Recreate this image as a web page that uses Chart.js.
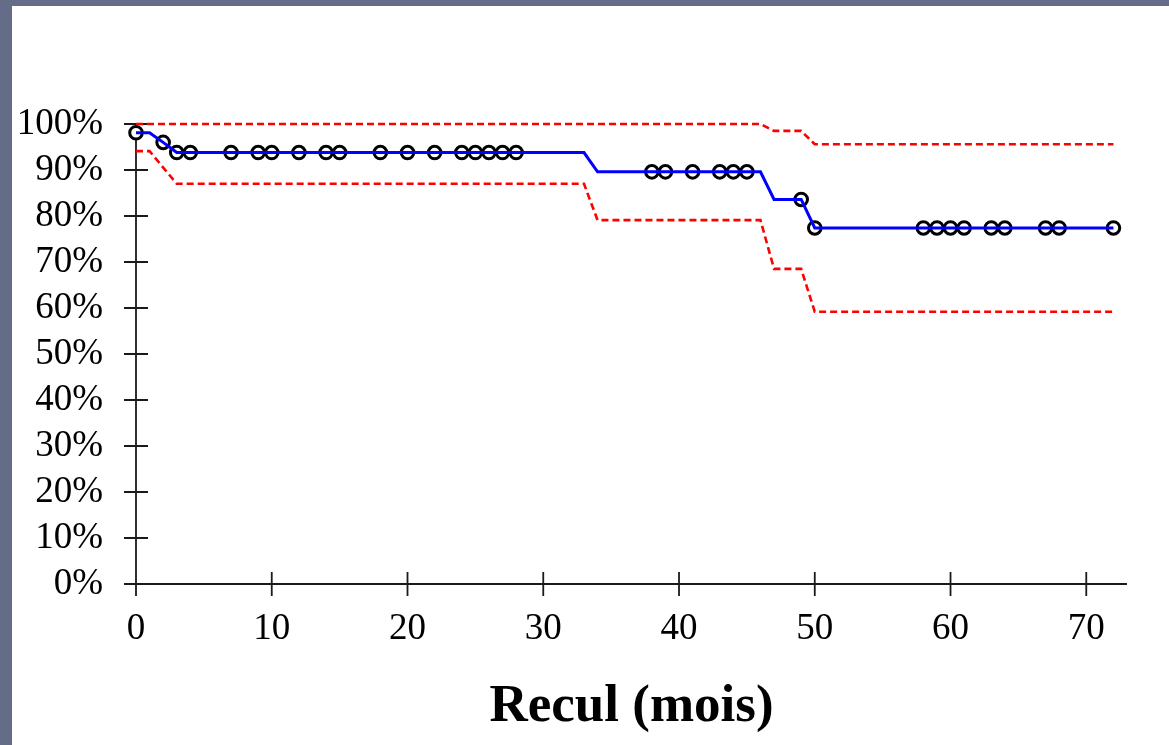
<!DOCTYPE html>
<html>
<head>
<meta charset="utf-8">
<script src="https://cdn.jsdelivr.net/npm/chart.js@4.4.1/dist/chart.umd.min.js"></script>
<style>
  html, body { margin: 0; padding: 0; background: #646c88; }
  #wrap { width: 1169px; height: 745px; }
</style>
</head>
<body>
<div id="wrap"><canvas id="survie" width="1169" height="745"></canvas></div>
<script>
// Kaplan-Meier curve (months, % survival)
const kmX = [0, 1, 2, 3, 33, 34, 46, 47, 49, 50, 72];
const kmY = [98.1, 98.1, 96.0, 93.8, 93.8, 89.6, 89.6, 83.6, 83.6, 77.4, 77.4];

// censored patients (circles)
const censX = [0, 2, 3, 4, 7, 9, 10, 12, 14, 15, 18, 20, 22, 24, 25, 26, 27, 28,
               38, 39, 41, 43, 44, 45, 49, 50, 58, 59, 60, 61, 63, 64, 67, 68, 72];
const censY = [98.1, 96.0, 93.8, 93.8, 93.8, 93.8, 93.8, 93.8, 93.8, 93.8, 93.8, 93.8, 93.8, 93.8, 93.8, 93.8, 93.8, 93.8,
               89.6, 89.6, 89.6, 89.6, 89.6, 89.6, 83.6, 77.4, 77.4, 77.4, 77.4, 77.4, 77.4, 77.4, 77.4, 77.4, 77.4];

// 95% confidence bounds
const upX = [0, 46, 47, 49, 50, 72];
const upY = [100, 100, 98.5, 98.5, 95.6, 95.6];
const loX = [0, 1, 3, 33, 34, 46, 47, 49, 50, 72];
const loY = [94.1, 94.1, 87.0, 87.0, 79.1, 79.1, 68.5, 68.5, 59.2, 59.2];

const xTicks = [0, 10, 20, 30, 40, 50, 60, 70];
const yTicks = [0, 10, 20, 30, 40, 50, 60, 70, 80, 90, 100];

const pts = (xs, ys) => xs.map((x, i) => ({ x: x, y: ys[i] }));

const serif = '"Liberation Serif", "Times New Roman", serif';

// slide background: grey frame + white panel
const slideBg = {
    id: 'slideBg',
    beforeDraw(chart) {
        const c = chart.ctx;
        c.save();
        c.fillStyle = '#646c88';
        c.fillRect(0, 0, chart.width, chart.height);
        c.fillStyle = '#ffffff';
        c.fillRect(12, 6, chart.width - 12, chart.height - 6);
        c.restore();
    }
};

// axes with ticks crossing the line, like the original software output
const crossAxes = {
    id: 'crossAxes',
    beforeDatasetsDraw(chart) {
        const c = chart.ctx;
        const xs = chart.scales.x, ys = chart.scales.y;
        const x0 = xs.getPixelForValue(0);
        const y0 = ys.getPixelForValue(0);
        const half = 12;
        c.save();
        c.strokeStyle = '#1a1a1a';
        c.lineWidth = 1.8;
        c.beginPath();
        c.moveTo(x0, ys.getPixelForValue(100));
        c.lineTo(x0, y0 + half);
        c.moveTo(x0 - half, y0);
        c.lineTo(xs.right, y0);
        xTicks.forEach(v => {
            const px = xs.getPixelForValue(v);
            c.moveTo(px, y0 - half);
            c.lineTo(px, y0 + half);
        });
        yTicks.forEach(v => {
            const py = ys.getPixelForValue(v);
            c.moveTo(x0 - half, py);
            c.lineTo(x0 + half, py);
        });
        c.stroke();
        c.restore();
    }
};

const ctx = document.getElementById('survie').getContext('2d');
const survieChart = new Chart(ctx, {
    type: 'scatter',
    data: {
        datasets: [
            {
                label: 'IC sup',
                data: pts(upX, upY),
                showLine: true,
                clip: false,
                borderColor: '#ff0000',
                borderWidth: 2.6,
                borderDash: [7, 4],
                pointRadius: 0,
                tension: 0
            },
            {
                label: 'IC inf',
                data: pts(loX, loY),
                showLine: true,
                clip: false,
                borderColor: '#ff0000',
                borderWidth: 2.6,
                borderDash: [7, 4],
                pointRadius: 0,
                tension: 0
            },
            {
                label: 'Survie',
                data: pts(kmX, kmY),
                showLine: true,
                clip: false,
                borderColor: '#0000ff',
                borderWidth: 3,
                pointRadius: 0,
                tension: 0
            },
            {
                label: 'Censures',
                data: pts(censX, censY),
                showLine: false,
                clip: false,
                pointRadius: 6.3,
                pointBorderWidth: 3,
                pointBackgroundColor: '#ffffff',
                pointBorderColor: '#000000'
            }
        ]
    },
    options: {
        responsive: false,
        animation: false,
        layout: { padding: { left: 0, right: 42, top: 124, bottom: 0 } },
        plugins: {
            legend: { display: false },
            tooltip: { enabled: false }
        },
        scales: {
            x: {
                type: 'linear',
                min: 0,
                max: 73,
                afterFit: (s) => { s.height = 161; },
                grid: { display: false, drawTicks: false },
                border: { display: false },
                ticks: {
                    stepSize: 10,
                    includeBounds: false,
                    autoSkip: false,
                    maxRotation: 0,
                    padding: 23,
                    color: '#000000',
                    font: { family: serif, size: 37 }
                },
                title: {
                    display: true,
                    text: 'Recul (mois)',
                    color: '#000000',
                    font: { family: serif, size: 53, weight: 'bold' },
                    padding: { top: 0, bottom: 6 }
                }
            },
            y: {
                min: 0,
                max: 100,
                afterFit: (s) => { s.width = 136; },
                grid: { display: false, drawTicks: false },
                border: { display: false },
                ticks: {
                    stepSize: 10,
                    autoSkip: false,
                    padding: 33,
                    color: '#000000',
                    font: { family: serif, size: 37 },
                    callback: (v) => v + '%'
                }
            }
        }
    },
    plugins: [slideBg, crossAxes]
});
</script>
</body>
</html>
